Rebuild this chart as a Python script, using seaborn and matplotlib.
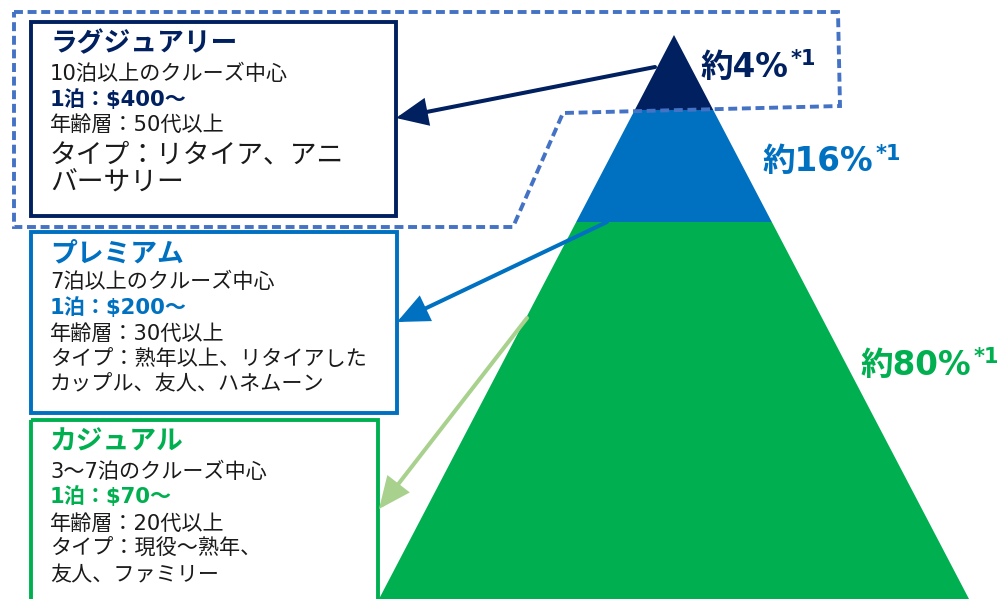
import matplotlib
matplotlib.use('Agg')
import matplotlib.pyplot as plt
import seaborn as sns
from matplotlib.patches import Rectangle, FancyArrowPatch
from matplotlib.lines import Line2D

sns.set_theme(style='white')
plt.rcParams['font.family'] = ['DejaVu Sans', 'Noto Sans CJK JP']

# ---- data ----
tiers = ['ラグジュアリー', 'プレミアム', 'カジュアル']
shares = [4, 16, 80]
footnote = '*1'
cruise_len = ['10泊以上のクルーズ中心', '7泊以上のクルーズ中心', '3～7泊のクルーズ中心']
price = ['1泊：$400～', '1泊：$200～', '1泊：$70～']
ages = ['年齢層：50代以上', '年齢層：30代以上', '年齢層：20代以上']
types = [['タイプ：リタイア、アニ', 'バーサリー'],
         ['タイプ：熟年以上、リタイアした', 'カップル、友人、ハネムーン'],
         ['タイプ：現役～熟年、', '友人、ファミリー']]

# ---- styles / layout ----
colors = ['#002060', '#0070C0', '#00B050']
arrow_colors = ['#002060', '#0070C0', '#A9D18E']
dash_color = '#4472C4'
text_color = '#1a1a1a'

W, H = 1003, 599
fig = plt.figure(figsize=(W / 100, H / 100), dpi=100)
ax = fig.add_axes([0, 0, 1, 1])
ax.set_xlim(0, W)
ax.set_ylim(H, 0)
ax.axis('off')

# pyramid geometry
apex_x, apex_y = 674, 35
base_y, base_half = 599, 295
band_edges = [apex_y, 110, 222, base_y]


def half_w(y):
    return base_half * (y - apex_y) / (base_y - apex_y)


for i in range(3):
    y0, y1 = band_edges[i], band_edges[i + 1]
    xs = [apex_x - half_w(y0), apex_x + half_w(y0), apex_x + half_w(y1), apex_x - half_w(y1)]
    ys = [y0, y0, y1, y1]
    ax.fill(xs, ys, color=colors[i], lw=0, zorder=1)

# dashed highlight outline
dx = [14, 838, 840, 563, 513, 14, 14]
dy = [12, 12, 106, 113, 227, 227, 12]
ax.add_line(Line2D(dx, dy, color=dash_color, lw=2.8, linestyle=(0, (2.3, 1.2)),
                   zorder=3, solid_joinstyle='miter', dash_joinstyle='miter'))

# boxes
boxes = [(31, 22, 365, 194), (31, 232, 366, 181), (31, 420, 347, 200)]
for (x, y, w, h), c in zip(boxes, colors):
    ax.add_patch(Rectangle((x, y), w, h, fill=False, edgecolor=c, lw=2.8, zorder=4,
                           joinstyle='miter'))

# box texts
tx = 50
title_y = [44, 254, 443]
line_ys = [[74, 100, 125, 156, 184], [282, 308, 334, 359, 384], [472, 497, 524, 549, 575]]
body = 15.2
for i in range(3):
    ax.text(tx, title_y[i], tiers[i], color=colors[i], fontsize=19.3, fontweight='bold',
            va='center', ha='left', zorder=5)
    ly = line_ys[i]
    ax.text(tx, ly[0], cruise_len[i], color=text_color, fontsize=body, va='center', zorder=5)
    ax.text(tx, ly[1], price[i], color=colors[i], fontsize=body, fontweight='bold',
            va='center', zorder=5)
    ax.text(tx, ly[2], ages[i], color=text_color, fontsize=body, va='center', zorder=5)
    big = 19.3 if i == 0 else body
    ax.text(tx, ly[3], types[i][0], color=text_color, fontsize=big, va='center', zorder=5)
    ax.text(tx, ly[4], types[i][1], color=text_color, fontsize=big, va='center', zorder=5)

# share labels
lab_pos = [(700, 67), (762, 162), (860, 365)]
for (x, y), s, c in zip(lab_pos, shares, colors):
    t = ax.text(x, y, f'約{s}%', color=c, fontsize=23.5, fontweight='bold',
                va='center', ha='left', zorder=5)
    ax.annotate(footnote, xy=(1, 1), xycoords=t, xytext=(2, 1), textcoords='offset points',
                color=c, fontsize=15, fontweight='bold', va='top', ha='left', zorder=5)

# arrows
arrows = [((655, 67), (396, 118)), ((607, 222), (397, 322)), ((527, 318), (379, 509))]
for ((x0, y0), (x1, y1)), c in zip(arrows, arrow_colors):
    ax.add_patch(FancyArrowPatch((x0, y0), (x1, y1), arrowstyle='-|>,head_length=18,head_width=8',
                                 color=c, lw=2.9, shrinkA=0, shrinkB=0, zorder=6,
                                 mutation_scale=1, joinstyle='miter'))

fig.savefig('out.png', dpi=100)
